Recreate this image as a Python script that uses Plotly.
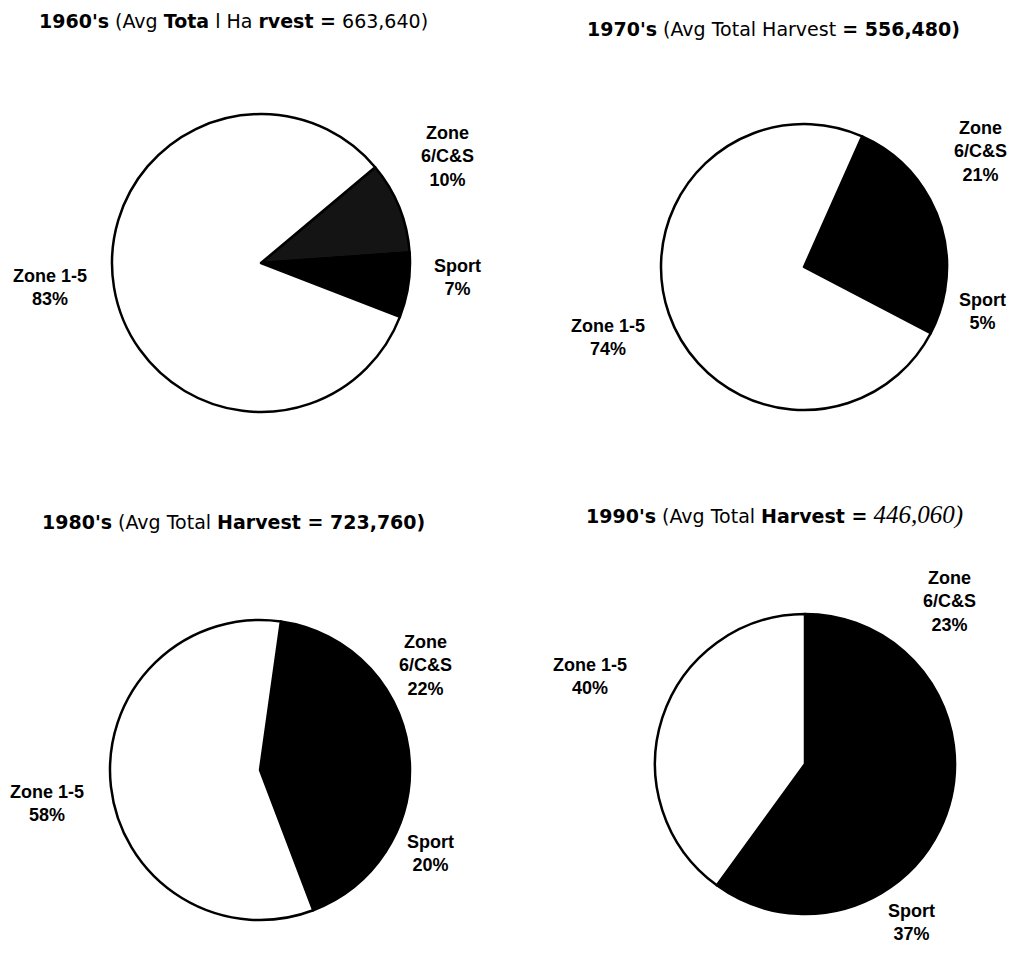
import plotly.graph_objects as go

# Average total harvest per decade and the split between the three sectors
decades = ["1960's", "1970's", "1980's", "1990's"]
avg_harvest = [663640, 556480, 723760, 446060]
sectors = ["Zone 6/C&S", "Sport", "Zone 1-5"]
share_1960s = [10, 7, 83]
share_1970s = [21, 5, 74]
share_1980s = [22, 20, 58]
share_1990s = [23, 37, 40]
shares = [share_1960s, share_1970s, share_1980s, share_1990s]

# the page body adds an 8px margin, so the figure is a bit smaller than the window
OFF = 8
W, H = 1000, 942
FONT = "Liberation Sans, Arial, sans-serif"
TITLE_FONT = "DejaVu Sans, sans-serif"


def px(x):
    return (x - OFF) / W


def py(y):
    return 1 - (y - OFF) / H


# pie centre (window pixels), radius, start angle of first slice
centres = [(261, 263), (804, 267), (260, 770), (805, 764)]
radius = [149, 143, 150, 150]
rotations = [50, 24, 8, 0]
fills = [["#141414", "black", "white"],
         ["black", "black", "white"],
         ["black", "black", "white"],
         ["black", "black", "white"]]

fig = go.Figure()
for i, vals in enumerate(shares):
    cx, cy = centres[i]
    r = radius[i]
    fig.add_trace(go.Pie(
        labels=sectors, values=vals,
        sort=False, direction='clockwise', rotation=rotations[i],
        textinfo='none', hoverinfo='label+percent',
        marker=dict(colors=fills[i], line=dict(color='black', width=2.5)),
        domain=dict(x=[px(cx - r), px(cx + r)], y=[py(cy + r), py(cy - r)]),
        showlegend=False,
    ))

# titles, with the odd bold runs of the scanned original
h = [f"{v:,}" for v in avg_harvest]
titles = [
    f"<b>{decades[0]}</b> (Avg <b>Tota</b> l Ha <b>rvest =</b> {h[0]})",
    f"<b>{decades[1]}</b> (Avg Total Harvest <b>= {h[1]})</b>",
    f"<b>{decades[2]}</b> (Avg Total <b>Harvest = {h[2]})</b>",
    f"<b>{decades[3]}</b> (Avg Total <b>Harvest =</b> "
    f"<span style='font-family:Liberation Serif, Times New Roman, serif;font-size:25px'>"
    f"<i>{h[3]})</i></span>",
]
title_pos = [(37, 21), (585, 29), (40, 522), (584, 515)]
annotations = []
for t, (x, y) in zip(titles, title_pos):
    annotations.append(dict(text=t, x=px(x), y=py(y), xref='paper', yref='paper',
                            xanchor='left', yanchor='middle', showarrow=False,
                            font=dict(family=TITLE_FONT, size=19, color='black')))

# slice labels: name + share, placed where the original had them
label_names = {"Zone 6/C&S": "Zone<br>6/C&S", "Sport": "Sport", "Zone 1-5": "Zone 1-5"}
label_pos = [
    [(447, 157), (457, 278), (50, 288)],
    [(980, 152), (982, 312), (608, 337)],
    [(425, 665), (430, 853), (47, 803)],
    [(949, 601), (911, 922), (590, 676)],
]
for i, vals in enumerate(shares):
    for j, s in enumerate(sectors):
        x, y = label_pos[i][j]
        annotations.append(dict(text=f"<b>{label_names[s]}<br>{vals[j]}%</b>",
                                x=px(x), y=py(y), xref='paper', yref='paper',
                                xanchor='center', yanchor='middle', showarrow=False,
                                align='center',
                                font=dict(family=FONT, size=18, color='black')))

fig.update_layout(
    width=W, height=H,
    margin=dict(l=0, r=0, t=0, b=0),
    paper_bgcolor='white', plot_bgcolor='white',
    annotations=annotations,
)

fig.write_html("out.html")
